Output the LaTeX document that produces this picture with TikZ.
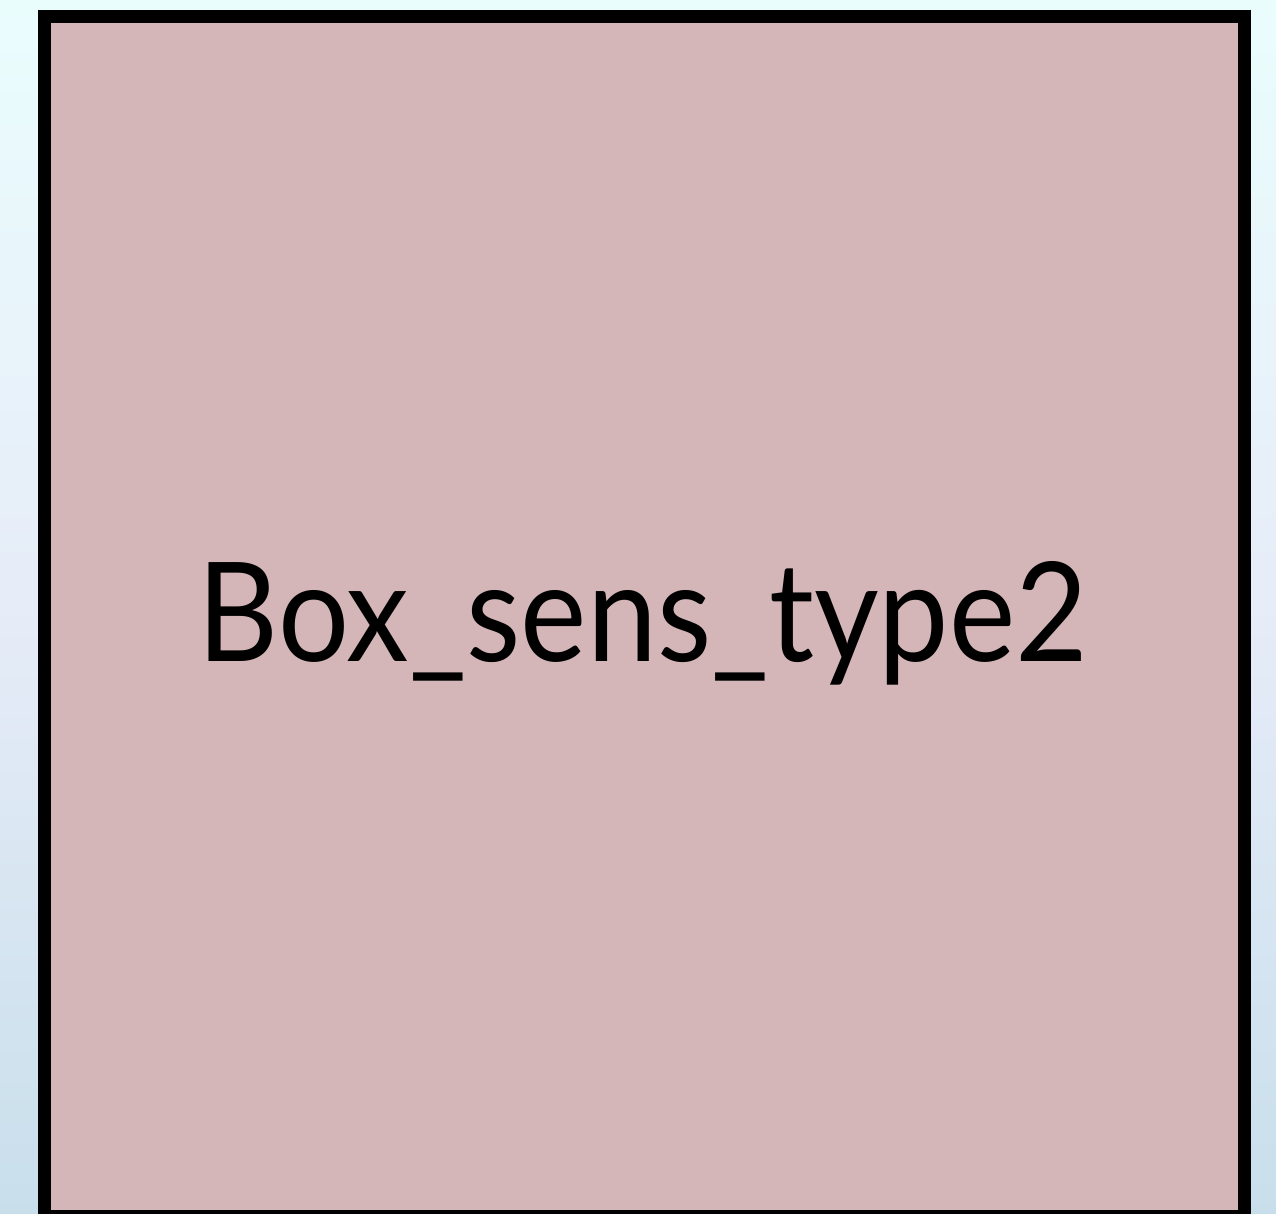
\documentclass[tikz,border=0pt]{standalone}
\usepackage{fontspec}
\setmainfont{Lato}
\definecolor{boxfill}{HTML}{D4B6B8}
\definecolor{bgtop}{HTML}{EAFDFD}
\definecolor{bgmid}{HTML}{E6ECF8}
\definecolor{bgbot}{HTML}{C8DFEB}
\tikzset{
  sensbox/.style={draw=black, line width=13pt, fill=boxfill, minimum width=1200pt, minimum height=1200pt, inner sep=0pt, outer sep=0pt}
}
\begin{document}
\begin{tikzpicture}[x=1pt,y=1pt]
  \useasboundingbox (0,0) rectangle (1276,1213);
  \clip (0,0) rectangle (1276,1213);
  \shade[top color=bgtop, bottom color=bgbot, middle color=bgmid] (0,0) rectangle (1276,1213);
  \node[sensbox, anchor=north west] (box) at (44.5,1196.5) {};
  \node (label) at (643,590) {\resizebox{890pt}{100pt}{Box\_sens\_type2}};
\end{tikzpicture}
\end{document}
